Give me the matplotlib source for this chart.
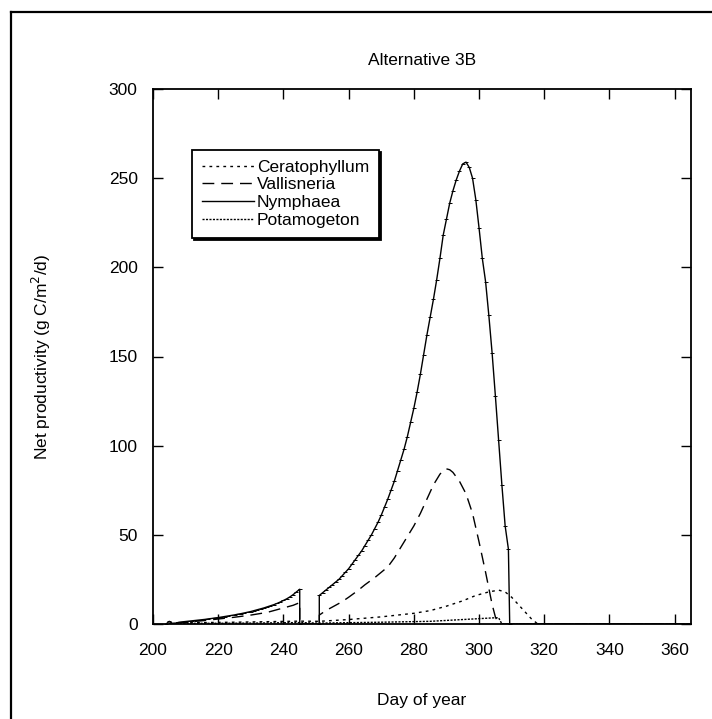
import matplotlib
matplotlib.use("Agg")
import matplotlib.pyplot as plt
from matplotlib.lines import Line2D

plt.rcParams['font.family'] = ['Liberation Sans', 'DejaVu Sans']

# Nymphaea, daily values (drops to zero at day 245, restarts at 251)
nym_days = [204, 205, 206, 207, 208, 209, 210, 211, 212, 213, 214, 215, 216, 217, 218, 219,
            220, 221, 222, 223, 224, 225, 226, 227, 228, 229, 230, 231, 232, 233, 234, 235,
            236, 237, 238, 239, 240, 241, 242, 243, 244, 245, 245, 251,
            251, 252, 253, 254, 255, 256, 257, 258, 259, 260, 261, 262, 263, 264, 265, 266,
            267, 268, 269, 270, 271, 272, 273, 274, 275, 276, 277, 278, 279, 280, 281, 282,
            283, 284, 285, 286, 287, 288, 289, 290, 291, 292, 293, 294, 295, 296, 297, 298,
            299, 300, 301, 302, 303, 304, 305, 306, 307, 308, 309, 309.4, 365]
nym_vals = [0, 1.5, 0.3, 0.5, 1.0, 1.2, 1.4, 1.6, 1.8, 2.0, 2.2, 2.4, 2.6, 2.9, 3.1, 3.4,
            3.6, 3.9, 4.2, 4.5, 4.8, 5.1, 5.5, 5.8, 6.2, 6.6, 7.0, 7.5, 8.0, 8.5, 9.0, 9.6,
            10.2, 10.8, 11.5, 12.3, 13.2, 14.1, 15.2, 16.5, 18.0, 19.5, 0, 0,
            16, 17.5, 19, 20.5, 22, 23.5, 25, 27, 29, 31, 33.5, 36, 38.5, 41, 44, 47,
            50, 53.5, 57, 61, 65.5, 70, 75, 80, 86, 92, 98, 105, 113, 121, 130, 140,
            151, 162, 172, 182, 193, 205, 218, 227, 236, 243, 249, 254, 258, 259, 256, 250,
            238, 222, 205, 192, 173, 152, 128, 103, 78, 55, 42, 0, 0]

vall_days = [207, 210, 215, 220, 225, 230, 235, 240, 243, 245, 245, 251, 251, 253, 255,
             258, 260, 263, 265, 268, 270, 272, 274, 276, 278, 280, 282, 284, 286, 288,
             289, 290, 291, 292, 294, 296, 298, 300, 302, 303, 304, 305, 306, 365]
vall_vals = [0.5, 1.0, 1.8, 2.8, 3.8, 5.0, 6.5, 9.0, 10.5, 12.0, 0, 0, 5.0, 7.5, 9.5,
             12.5, 15, 19, 22, 26, 29, 32, 37, 43, 49, 55, 62, 70, 78, 84,
             86, 87, 86.5, 85, 80, 73, 62, 46, 29, 20, 11, 4, 0, 0]

cera_days = [205, 215, 225, 235, 245, 251, 260, 270, 280, 285, 290, 295, 299, 303,
             306, 308, 310, 312, 314, 316, 318, 365]
cera_vals = [0.5, 0.8, 1.0, 1.3, 1.6, 1.5, 2.5, 4, 6, 7.5, 10, 13, 16, 18,
             19, 18, 15, 11, 7, 3, 0, 0]

pota_days = [205, 230, 245, 251, 270, 285, 290, 295, 300, 305, 306, 307, 365]
pota_vals = [0.3, 0.5, 0.8, 0.5, 1.0, 1.5, 2.0, 2.5, 3.0, 3.5, 3.5, 0, 0]

x_ticks = [200, 220, 240, 260, 280, 300, 320, 340, 360]
y_ticks = [0, 50, 100, 150, 200, 250, 300]

FS = 12.5

fig = plt.figure(figsize=(7.12, 7.19), dpi=100)
ax = fig.add_axes([153 / 712, 95 / 719, 538 / 712, 535 / 719])

ax.plot(cera_days, cera_vals, color="black", lw=1.0, linestyle=(0, (2, 3)), label="Ceratophyllum")
ax.plot(vall_days, vall_vals, color="black", lw=1.0, linestyle=(0, (8.5, 5)), label="Vallisneria")
ax.plot(nym_days, nym_vals, color="black", lw=1.0, marker="_", ms=2.6, mew=0.7,
        markevery=list(range(len(nym_days) - 1)), label="Nymphaea")
ax.plot(pota_days, pota_vals, color="black", lw=1.0, linestyle=(0, (1.5, 1)), label="Potamogeton")

ax.set_xlim(200, 365)
ax.set_ylim(0, 300)
ax.set_xticks(x_ticks)
ax.set_yticks(y_ticks)
ax.tick_params(direction="in", length=7.5, width=1.0, top=True, right=True, labelsize=FS)
ax.tick_params(axis="x", pad=14)
ax.tick_params(axis="y", pad=11)
for s in ax.spines.values():
    s.set_linewidth(1.3)

ax.set_title("Alternative 3B", fontsize=FS, pad=17)
ax.set_xlabel("Day of year", fontsize=FS, labelpad=25)
ax.set_ylabel("Net productivity (g C/m$^2$/d)", fontsize=FS, labelpad=40)

leg = ax.legend(loc="upper left", bbox_to_anchor=(0.0725, 0.886), borderaxespad=0,
                fontsize=FS, handlelength=3.0, handletextpad=0.2, labelspacing=0.15,
                borderpad=0.55, fancybox=False, framealpha=1,
                shadow={"color": "black", "alpha": 1, "ox": 1.6, "oy": -1.6})
leg.get_frame().set_edgecolor("black")
leg.get_frame().set_linewidth(1.3)
for h in leg.legend_handles:
    h.set_marker("")

# outer frame (left and top edges visible)
fig.add_artist(Line2D([11 / 712, 11 / 712], [0, 1 - 12 / 719], transform=fig.transFigure,
                      color="black", lw=1.6))
fig.add_artist(Line2D([11 / 712, 1], [1 - 12 / 719, 1 - 12 / 719], transform=fig.transFigure,
                      color="black", lw=1.6))

fig.savefig("out.png", dpi=100)
